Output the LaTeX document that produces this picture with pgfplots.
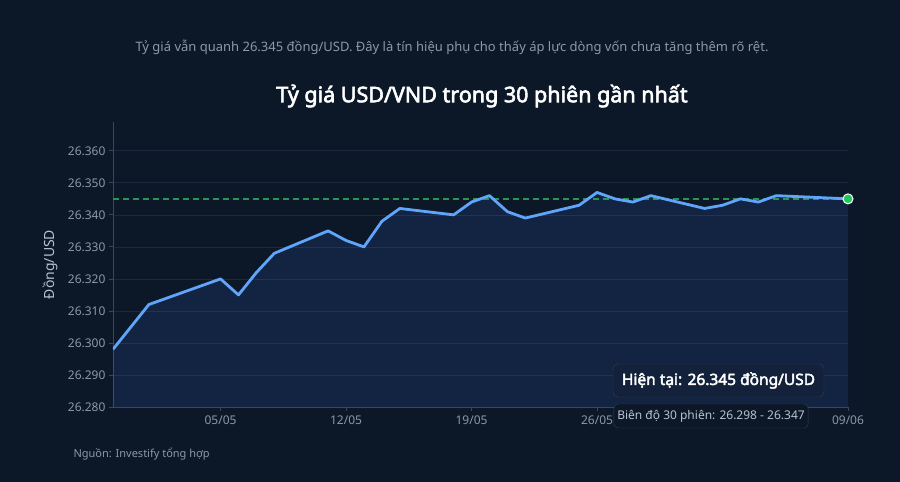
\documentclass[border=0pt]{standalone}
\usepackage{fontspec}
\setmainfont{Noto Sans}[AutoFakeBold=2.8]
\usepackage{pgfplots}
\pgfplotsset{compat=1.18}
\usepackage{pgfplotstable}

\definecolor{bg}{HTML}{0C1727}
\definecolor{lineblue}{HTML}{60A5FA}
\definecolor{areablue}{HTML}{3B82F6}
\definecolor{refgreen}{HTML}{2A9455}
\definecolor{dotgreen}{HTML}{22C55E}
\definecolor{gridc}{HTML}{1D2A3C}
\definecolor{axisc}{HTML}{3A4759}
\definecolor{tickc}{HTML}{8C98A8}
\definecolor{labc}{HTML}{B8C2CF}
\definecolor{boxfill}{HTML}{13223A}
\definecolor{boxdraw}{HTML}{2F3F55}

% day index counted from 29/04, value in thousand VND
\pgfplotstableread{
d v
0 26.298
2 26.312
6 26.320
7 26.315
8 26.322
9 26.328
12 26.335
13 26.332
14 26.330
15 26.338
16 26.342
19 26.340
20 26.344
21 26.346
22 26.341
23 26.339
26 26.343
27 26.347
28 26.345
29 26.344
30 26.346
33 26.342
34 26.343
35 26.345
36 26.344
37 26.346
41 26.345
}\rate

\begin{document}
\begin{tikzpicture}[x=1pt,y=1pt]
\fill[bg] (0,0) rectangle (900,482);

\node[text=tickc, font=\fontsize{13}{15}\selectfont] at (452,435) {Tỷ giá vẫn quanh 26.345 đồng/USD. Đây là tín hiệu phụ cho thấy áp lực dòng vốn chưa tăng thêm rõ rệt.};
\node[text=white, font=\fontsize{21.5}{25}\selectfont\bfseries] at (482,386) {Tỷ giá USD/VND trong 30 phiên gần nhất};
\node[text=tickc, font=\fontsize{11}{13}\selectfont, anchor=west] at (70,28) {Nguồn: Investify tổng hợp};

\begin{axis}[
    at={(113pt,75pt)}, anchor=south west,
    width=735pt, height=285pt, scale only axis,
    xmin=0, xmax=41,
    ymin=26.280, ymax=26.369,
    axis x line*=bottom, axis y line*=left,
    axis line style={axisc, line width=0.8pt},
    xtick={6,13,20,27,34,41},
    xticklabels={05/05,12/05,19/05,26/05,,09/06},
    ytick={26.28,26.29,26.3,26.31,26.32,26.33,26.34,26.35,26.36},
    yticklabel style={/pgf/number format/.cd, fixed, fixed zerofill, precision=3, 1000 sep={}},
    /pgf/number format/assume math mode=true,
    tick label style={text=tickc, font=\fontsize{12}{14}\selectfont},
    major tick length=4pt, tick align=outside,
    tick style={axisc, line width=0.8pt},
    ymajorgrids, grid style={gridc, line width=0.7pt},
    ylabel={Đồng/USD},
    every axis y label/.style={at={(axis description cs:-0.0857,0.5)}, rotate=90, anchor=center,
        text=labc, font=\fontsize{14}{16}\selectfont},
    xticklabel style={yshift=-1pt},
]
\addplot[draw=none, fill=areablue, fill opacity=0.13] table[x=d, y=v] {\rate}
    -- (axis cs:41,26.28) -- (axis cs:0,26.28) -- cycle;
\addplot[refgreen, line width=1.3pt, dash pattern=on 6pt off 4pt] coordinates {(0,26.345) (41,26.345)};
\addplot[lineblue, line width=2.8pt, line join=round] table[x=d, y=v] {\rate};
\addplot[only marks, mark=*, mark size=5pt, mark options={fill=dotgreen, draw=white, line width=1pt}] coordinates {(41,26.345)};
\end{axis}

\node[draw=boxdraw, fill=boxfill, rounded corners=5pt, minimum width=211pt, minimum height=33pt,
      text=white, font=\fontsize{15.5}{18}\selectfont\bfseries] at (718.5,101.5) {Hiện tại: 26.345 đồng/USD};
\node[draw=boxdraw, fill=bg, rounded corners=4pt, minimum width=190pt, minimum height=24pt,
      text=labc, font=\fontsize{12}{14}\selectfont] at (711,66) {Biên độ 30 phiên: 26.298 - 26.347};
\end{tikzpicture}
\end{document}
